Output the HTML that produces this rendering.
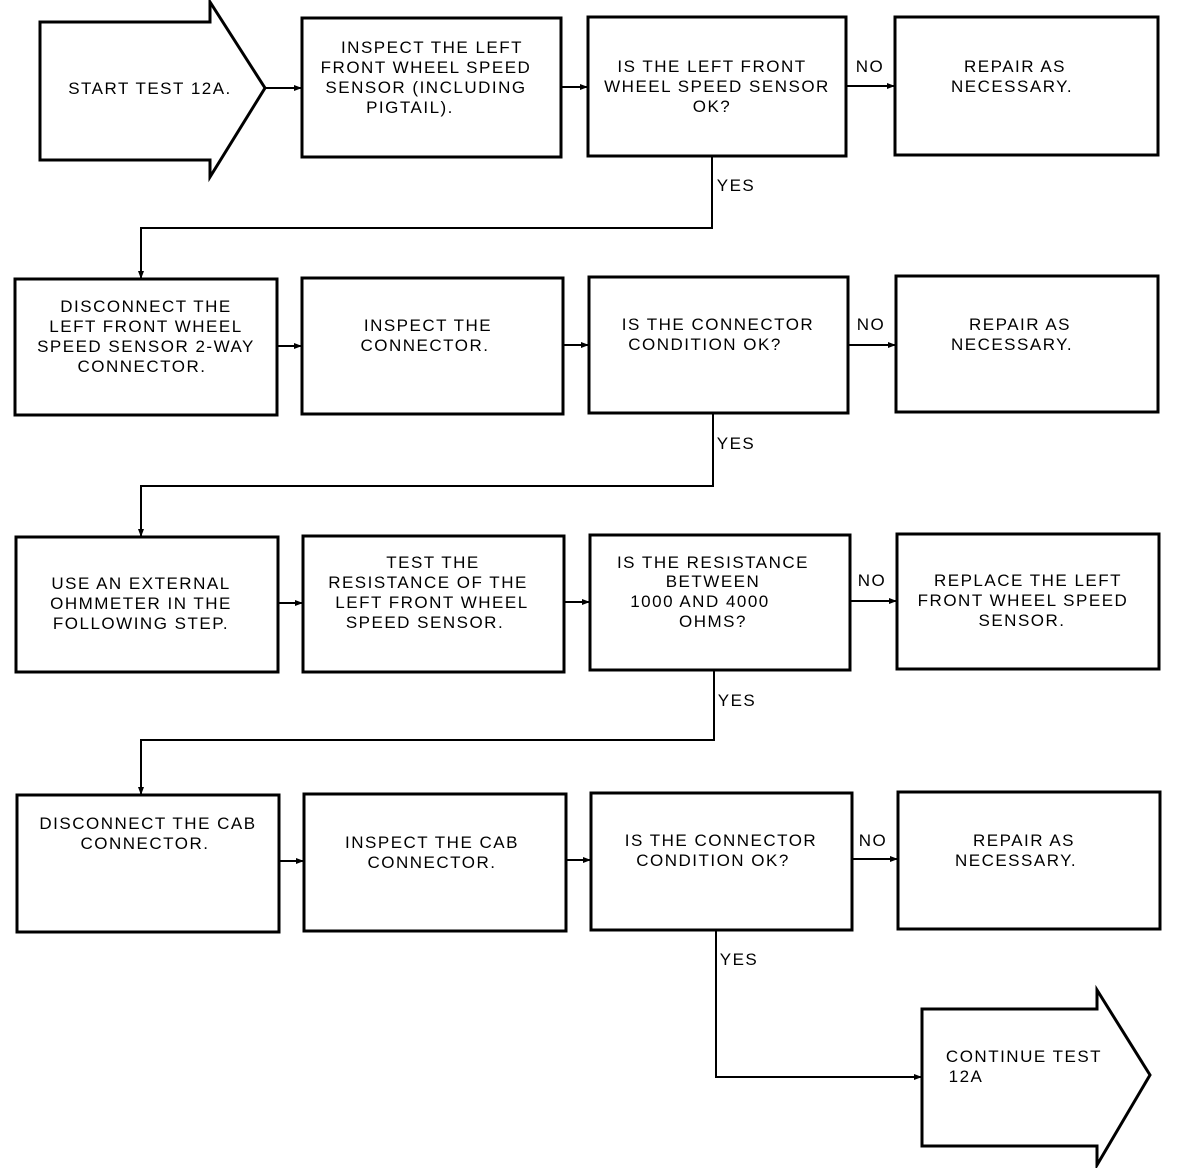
<!DOCTYPE html>
<html><head><meta charset="utf-8"><style>
html,body{margin:0;padding:0;background:#fff;}
svg{display:block;}
text{font-family:"Liberation Sans",sans-serif;font-size:17px;fill:#000;letter-spacing:1.5px;text-anchor:middle;}
</style></head><body>
<svg width="1184" height="1168" viewBox="0 0 1184 1168" xmlns="http://www.w3.org/2000/svg">
<defs><marker id="a" markerWidth="8" markerHeight="8" refX="7" refY="4" orient="auto" markerUnits="userSpaceOnUse"><path d="M0,1 L8,4 L0,7z" fill="#000"/></marker></defs>
<g fill="none" stroke="#000" stroke-width="3">
<path d="M40,22 L210,22 L210,2 L265,88 L210,177 L210,160 L40,160 Z"/>
<rect x="302" y="18" width="259" height="139"/>
<rect x="588" y="17" width="258" height="139"/>
<rect x="895" y="17" width="263" height="138"/>
<rect x="15" y="279" width="262" height="136"/>
<rect x="302" y="278" width="261" height="136"/>
<rect x="589" y="277" width="259" height="136"/>
<rect x="896" y="276" width="262" height="136"/>
<rect x="16" y="537" width="262" height="135"/>
<rect x="303" y="536" width="261" height="136"/>
<rect x="590" y="535" width="260" height="135"/>
<rect x="897" y="534" width="262" height="135"/>
<rect x="17" y="795" width="262" height="137"/>
<rect x="304" y="794" width="262" height="137"/>
<rect x="591" y="793" width="261" height="137"/>
<rect x="898" y="792" width="262" height="137"/>
<path d="M922,1009 L1097,1009 L1097,990 L1150,1075 L1097,1165 L1097,1146 L922,1146 Z"/>
</g>
<g fill="none" stroke="#000" stroke-width="2" marker-end="url(#a)">
<path d="M265,88 L301,88"/><path d="M561,87 L587,87"/><path d="M846,86 L894,86"/>
<path d="M712,156 L712,228 L141,228 L141,278"/>
<path d="M277,346 L301,346"/><path d="M563,345 L588,345"/><path d="M848,345 L895,345"/>
<path d="M713,413 L713,486 L141,486 L141,536"/>
<path d="M278,603 L302,603"/><path d="M564,602 L589,602"/><path d="M850,601 L896,601"/>
<path d="M714,670 L714,740 L141,740 L141,794"/>
<path d="M279,861 L303,861"/><path d="M566,860 L590,860"/><path d="M852,859 L897,859"/>
<path d="M716,930 L716,1077 L921,1077"/>
</g>
<g>
<text x="150" y="94">START TEST 12A.</text>
<text x="432" y="53">INSPECT THE LEFT</text><text x="426" y="73">FRONT WHEEL SPEED</text><text x="426" y="93">SENSOR (INCLUDING</text><text x="410" y="113">PIGTAIL).</text>
<text x="712" y="72">IS THE LEFT FRONT</text><text x="717" y="92">WHEEL SPEED SENSOR</text><text x="712" y="112">OK?</text>
<text x="870" y="72">NO</text>
<text x="1015" y="72">REPAIR AS</text><text x="1012" y="92">NECESSARY.</text>
<text x="736" y="191">YES</text>
<text x="146" y="312">DISCONNECT THE</text><text x="146" y="332">LEFT FRONT WHEEL</text><text x="146" y="352">SPEED SENSOR 2-WAY</text><text x="142" y="372">CONNECTOR.</text>
<text x="428" y="331">INSPECT THE</text><text x="425" y="351">CONNECTOR.</text>
<text x="718" y="330">IS THE CONNECTOR</text><text x="705" y="350">CONDITION OK?</text>
<text x="871" y="330">NO</text>
<text x="1020" y="330">REPAIR AS</text><text x="1012" y="350">NECESSARY.</text>
<text x="736" y="449">YES</text>
<text x="141" y="589">USE AN EXTERNAL</text><text x="141" y="609">OHMMETER IN THE</text><text x="141" y="629">FOLLOWING STEP.</text>
<text x="433" y="568">TEST THE</text><text x="428" y="588">RESISTANCE OF THE</text><text x="432" y="608">LEFT FRONT WHEEL</text><text x="425" y="628">SPEED SENSOR.</text>
<text x="713" y="568">IS THE RESISTANCE</text><text x="713" y="587">BETWEEN</text><text x="700" y="607">1000 AND 4000</text><text x="713" y="627">OHMS?</text>
<text x="872" y="586">NO</text>
<text x="1028" y="586">REPLACE THE LEFT</text><text x="1023" y="606">FRONT WHEEL SPEED</text><text x="1022" y="626">SENSOR.</text>
<text x="737" y="706">YES</text>
<text x="148" y="829">DISCONNECT THE CAB</text><text x="145" y="849">CONNECTOR.</text>
<text x="432" y="848">INSPECT THE CAB</text><text x="432" y="868">CONNECTOR.</text>
<text x="721" y="846">IS THE CONNECTOR</text><text x="713" y="866">CONDITION OK?</text>
<text x="873" y="846">NO</text>
<text x="1024" y="846">REPAIR AS</text><text x="1016" y="866">NECESSARY.</text>
<text x="739" y="965">YES</text>
<text x="1024" y="1062">CONTINUE TEST</text><text x="966" y="1082">12A</text>
</g>
</svg>
</body></html>
